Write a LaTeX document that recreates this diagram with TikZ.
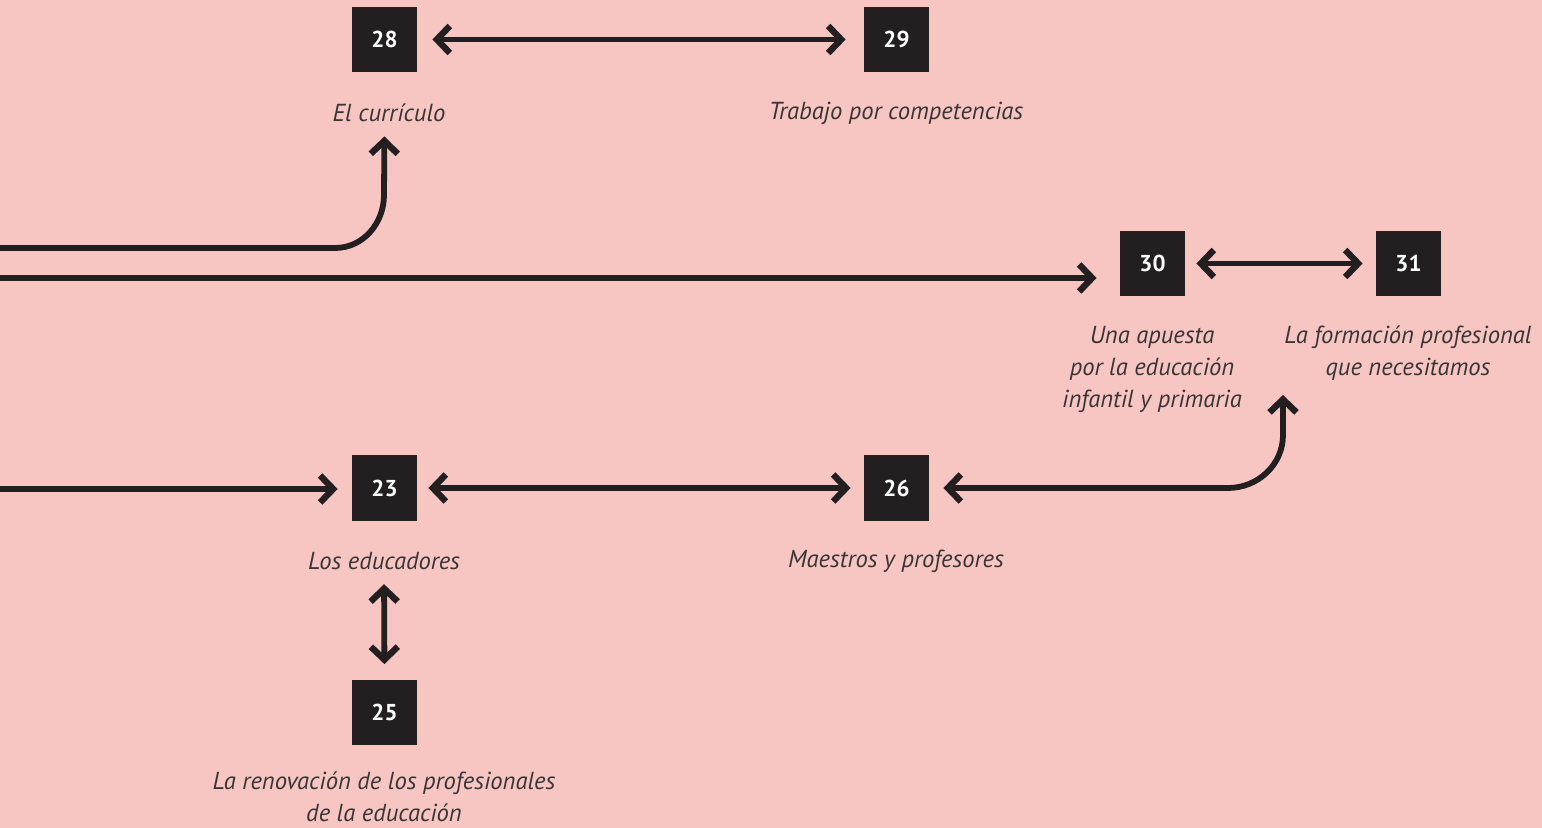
\documentclass[tikz,border=0pt]{standalone}
\usepackage{fontspec}
\setmainfont{PT Sans}
\usetikzlibrary{arrows.meta,positioning}
\definecolor{bg}{HTML}{F8C6C2}
\definecolor{ink}{HTML}{231F20}

\begin{document}
\begin{tikzpicture}
	[
		x=0.5pt, y=-0.5pt,
		box/.style = {shape=rectangle, fill=ink, minimum size=32.5pt, inner sep=0pt, text=white, font=\bfseries\fontsize{11.5}{12}\selectfont},
		lbl/.style = {align=center, text=ink!90, inner sep=0pt, font=\itshape\fontsize{12.3}{16}\selectfont},
		barb/.tip = {Straight Barb[length=6.5pt,width=13.5pt,line width=3.2pt]},
		link/.style = {draw=ink, line width=2.9pt, line cap=round, -barb},
		both/.style = {link, barb-barb}
	]
	
	\path[fill=bg, use as bounding box] (0,0) rectangle (1542,828);
	
	\node [box] (b28) at (384.5,39.5) {28};
	\node [box] (b29) at (896.5,39.5) {29};
	\node [box] (b30) at (1152.5,263.5) {30};
	\node [box] (b31) at (1408.5,263.5) {31};
	\node [box] (b23) at (384.5,488) {23};
	\node [box] (b26) at (896.5,488) {26};
	\node [box] (b25) at (384.5,712) {25};
	
	\node [lbl] (t28) at (389,113) {El currículo};
	\node [lbl] (t29) at (896,113) {Trabajo por competencias};
	\node [lbl] (t30) at (1152,369) {Una apuesta\\por la educación\\infantil y primaria};
	\node [lbl] (t31) at (1408,353) {La formación profesional\\que necesitamos};
	\node [lbl] (t23) at (384,561) {Los educadores};
	\node [lbl] (t26) at (896,561) {Maestros y profesores};
	\node [lbl] (t25) at (384,797) {La renovación de los profesionales\\de la educación};
	
	\coordinate (c1) at (0,248);
	\coordinate (c2) at (0,278);
	\coordinate (c3) at (0,489);
	\coordinate (k31) at (1283,384);
	
	\draw [both, shorten <=7.5pt, shorten >=9pt] (b28) -- (b29);
	\draw [both, shorten <=5.5pt, shorten >=6.5pt] (b23) -- (b26);
	\draw [both, shorten <=5.5pt, shorten >=6.5pt] (b30) -- (b31);
	\draw [both, shorten <=7pt, shorten >=7.5pt] (t23.south) -- (b25.north);
	
	\draw [link, shorten >=7pt] (c1) -- (335,248) to[out=0,in=-90] (384,195) -- (b28 |- t28.south);
	\draw [link, shorten >=11.5pt] (c2) -- (b30.west |- c2);
	\draw [link, shorten >=7pt] (c3) -- (b23.west |- c3);
	\draw [both, shorten <=7pt, shorten >=5.5pt] (b26) -- (1228,488) to[out=0,in=-90] (1283,435) -- (k31);
	
\end{tikzpicture}
\end{document}
